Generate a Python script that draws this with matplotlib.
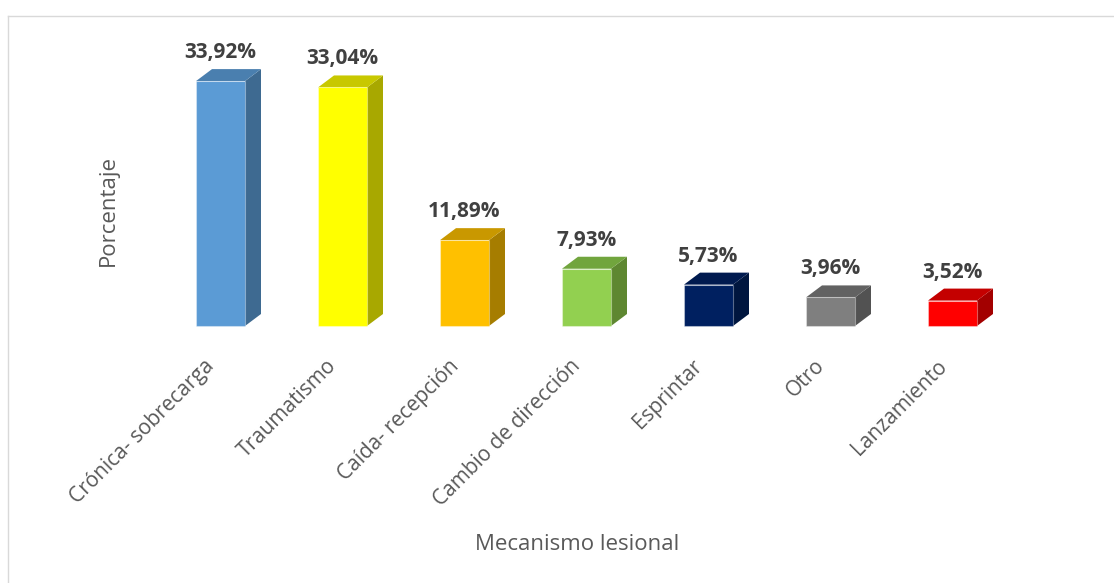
import matplotlib
matplotlib.use("Agg")
import matplotlib.pyplot as plt
from matplotlib.patches import Polygon
from matplotlib.lines import Line2D

plt.rcParams["font.family"] = ["Open Sans", "DejaVu Sans"]

categories = ["Crónica- sobrecarga", "Traumatismo", "Caída- recepción",
              "Cambio de dirección", "Esprintar", "Otro", "Lanzamiento"]
values = [33.92, 33.04, 11.89, 7.93, 5.73, 3.96, 3.52]
value_labels = ["33,92%", "33,04%", "11,89%", "7,93%", "5,73%", "3,96%", "3,52%"]

# front, side, top colours of each box
front_colors = ["#5B9BD5", "#FFFF00", "#FFC000", "#92D050", "#002060", "#7F7F7F", "#FF0000"]
side_colors = ["#3E6A91", "#A8A800", "#A67D00", "#5E8731", "#00163F", "#525252", "#A30000"]
top_colors = ["#4A7FAF", "#C8C800", "#C99800", "#71A53D", "#001A4F", "#626262", "#C40000"]

W, H = 1114, 583
fig = plt.figure(figsize=(W / 100, H / 100), dpi=100)

# axes placed in pixel terms: baseline at y=326, bars 122 px apart
ax_left, ax_width = 159.5, 854.0
ax_base, ax_height = 326.0, 288.8
ax = fig.add_axes([ax_left / W, (H - ax_base) / H, ax_width / W, ax_height / H])
ax.set_xlim(-0.5, len(categories) - 0.5)
ax.set_ylim(0, 40)
ax.axis("off")

px_x = ax_width / len(categories)      # pixels per category unit
px_y = ax_height / 40.0                # pixels per percent
depth_x = 16 / px_x
depth_y = 12 / px_y
bar_w = 49 / px_x

for i, (v, lab) in enumerate(zip(values, value_labels)):
    x0, x1 = i - bar_w / 2, i + bar_w / 2
    ax.add_patch(Polygon([(x0, 0), (x1, 0), (x1, v), (x0, v)], closed=True,
                         facecolor=front_colors[i], edgecolor=(1, 1, 1, 0.35), linewidth=0.8,
                         clip_on=False, zorder=3))
    ax.add_patch(Polygon([(x1, 0), (x1 + depth_x, depth_y), (x1 + depth_x, v + depth_y), (x1, v)],
                         closed=True, facecolor=side_colors[i], edgecolor="none",
                         clip_on=False, zorder=2))
    ax.add_patch(Polygon([(x0, v), (x1, v), (x1 + depth_x, v + depth_y), (x0 + depth_x, v + depth_y)],
                         closed=True, facecolor=top_colors[i], edgecolor="none",
                         clip_on=False, zorder=2))
    ax.text(i, v + depth_y + 6 / px_y, lab, ha="center", va="bottom",
            fontsize=15, fontweight="bold", color="#404040", clip_on=False)
    ax.text(i - 9 / px_x, -37 / px_y, categories[i], rotation=45, rotation_mode="anchor",
            ha="right", va="center", fontsize=15, color="#595959", clip_on=False)

fig.text(108 / W, 1 - 210 / H, "Porcentaje", rotation=90, ha="center", va="center",
         fontsize=16, color="#595959")
fig.text(577 / W, 1 - 545 / H, "Mecanismo lesional", ha="center", va="center",
         fontsize=16, color="#595959")

# chart area frame
fig.add_artist(Line2D([7.5 / W, 7.5 / W], [0, 1 - 15.5 / H], transform=fig.transFigure,
                      color="#D9D9D9", linewidth=1))
fig.add_artist(Line2D([7.5 / W, 1], [1 - 15.5 / H, 1 - 15.5 / H], transform=fig.transFigure,
                      color="#D9D9D9", linewidth=1))

fig.savefig("out.png", dpi=100, facecolor="white")
